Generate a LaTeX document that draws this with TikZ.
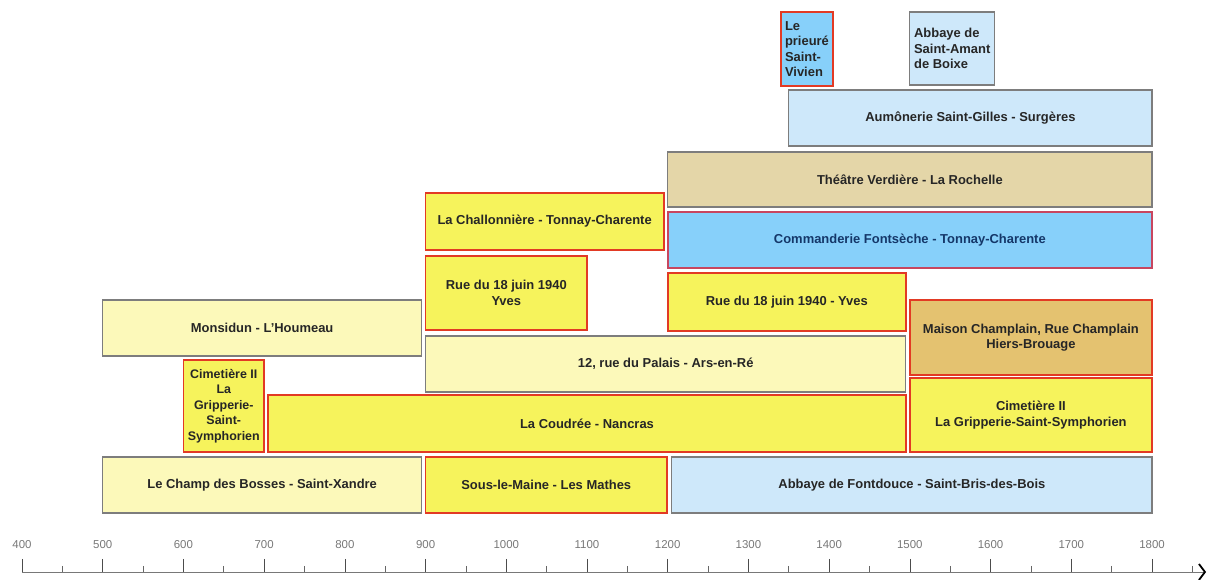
\documentclass[tikz,border=0pt]{standalone}
\usepackage{fontspec}
\setsansfont{Liberation Sans}
\usetikzlibrary{arrows.meta}

\definecolor{brightyellow}{RGB}{246,243,92}
\definecolor{paleyellow}{RGB}{252,249,186}
\definecolor{paleblue}{RGB}{206,232,250}
\definecolor{skyblue}{RGB}{135,208,250}
\definecolor{tanfill}{RGB}{228,214,168}
\definecolor{ochre}{RGB}{228,194,112}
\definecolor{redframe}{RGB}{226,58,36}
\definecolor{roseframe}{RGB}{200,70,95}
\definecolor{grayframe}{RGB}{125,125,125}
\definecolor{axisgray}{RGB}{120,120,120}
\definecolor{navytext}{RGB}{20,55,105}

\begin{document}
\begin{tikzpicture}[
    x=0.80714bp, y=-1bp,
    period/.style n args={4}{
        minimum width={(#3-#1)*0.80714bp},
        minimum height={(#4-#2)*1bp},
        at={({(#1+#3)/2},{(#2+#4)/2})}
    },
    site/.style={
        draw,
        rectangle,
        inner sep=0pt,
        line width=1.1bp,
        align=center,
        text=black!85,
        font=\sffamily\bfseries\fontsize{13}{15.5}\selectfont
    },
    excavated/.style={
        site,
        draw=redframe,
        line width=1.8bp
    },
    surveyed/.style={
        site,
        draw=grayframe
    },
    yearlabel/.style={
        font=\sffamily\fontsize{11.5}{13}\selectfont,
        text=axisgray,
        inner sep=0pt
    },
    majortick/.style={
        line width=0.6bp,
        draw=black!70
    },
    minortick/.style={
        line width=0.6bp,
        draw=black!60
    },
    axis/.style={
        line width=0.7bp,
        draw=axisgray,
        -{Straight Barb[length=6bp, width=16bp, line width=1.8bp, black]}
    }
]

    \useasboundingbox (372.74,0) rectangle (1873.1,580);

    % Top rows
    \node[excavated, fill=skyblue, align=left, period={1340}{12}{1405}{86}] (prieure) {Le\\prieuré\\Saint-\\Vivien};
    \node[surveyed, fill=paleblue, align=left, period={1500}{12}{1605}{85}] (amant) {Abbaye de\\Saint-Amant\\de Boixe};
    \node[surveyed, fill=paleblue, period={1350}{90}{1800}{146}] (aumonerie) {Aumônerie Saint-Gilles - Surgères};
    \node[surveyed, fill=tanfill, period={1200}{152}{1800}{207}] (theatre) {Théâtre Verdière - La Rochelle};
    \node[site, draw=roseframe, line width=1.6bp, fill=skyblue, text=navytext,
          period={1200}{212}{1800}{268}] (commanderie) {Commanderie Fontsèche - Tonnay-Charente};

    % Middle rows
    \node[excavated, fill=brightyellow, period={900}{193}{1195}{250}] (challonniere) {La Challonnière - Tonnay-Charente};
    \node[excavated, fill=brightyellow, period={900}{256}{1100}{330}] (yvesA) {Rue du 18 juin 1940\\Yves};
    \node[excavated, fill=brightyellow, period={1200}{273}{1495}{331}] (yvesB) {Rue du 18 juin 1940 - Yves};
    \node[surveyed, fill=paleyellow, period={500}{300}{895}{356}] (monsidun) {Monsidun - L'Houmeau};
    \node[surveyed, fill=paleyellow, period={900}{336}{1495}{392}] (palais) {12, rue du Palais - Ars-en-Ré};
    \node[excavated, fill=ochre, period={1500}{300}{1800}{375}] (champlain) {Maison Champlain, Rue Champlain\\Hiers-Brouage};
    \node[excavated, fill=brightyellow, period={600}{360}{700}{452},
          font=\sffamily\bfseries\fontsize{12.5}{15.5}\selectfont] (cimetiereA) {Cimetière II\\La\\Gripperie-\\Saint-\\Symphorien};
    \node[excavated, fill=brightyellow, period={705}{395}{1495}{452}] (coudree) {La Coudrée - Nancras};
    \node[excavated, fill=brightyellow, period={1500}{378}{1800}{452}] (cimetiereB) {Cimetière II\\La Gripperie-Saint-Symphorien};

    % Bottom row
    \node[surveyed, fill=paleyellow, period={500}{457}{895}{513}] (bosses) {Le Champ des Bosses - Saint-Xandre};
    \node[excavated, fill=brightyellow, period={900}{457}{1199}{513}] (maine) {Sous-le-Maine - Les Mathes};
    \node[surveyed, fill=paleblue, period={1205}{457}{1800}{513}] (fontdouce) {Abbaye de Fontdouce - Saint-Bris-des-Bois};

    % Time axis
    \coordinate (axisstart) at (400,572);
    \coordinate (axisend) at (1867,572);
    \draw[axis] (axisstart) -- (axisend);
    \foreach \yr in {400,500,...,1800} {
        \draw[majortick] (\yr,559) -- (\yr,572);
        \node[yearlabel] (label\yr) at (\yr,545) {\yr};
    }
    \foreach \yr in {450,550,...,1850} {
        \draw[minortick] (\yr,566) -- (\yr,572);
    }

\end{tikzpicture}
\end{document}
